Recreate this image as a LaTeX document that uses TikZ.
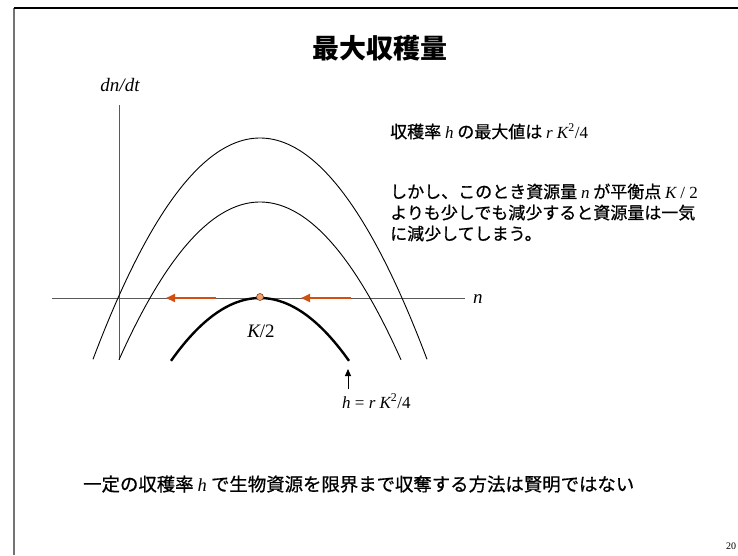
\documentclass[tikz,border=0pt]{standalone}
\usepackage{fontspec}
\setmainfont{Liberation Serif}
\newfontfamily\cjk[FakeBold=0.7]{Noto Sans CJK JP}
\newfontfamily\cjktitle{Noto Sans CJK JP}
\usetikzlibrary{arrows.meta}
\definecolor{arrorange}{HTML}{D2500F}
\definecolor{dotfill}{HTML}{F2A36E}
\definecolor{dotline}{HTML}{7A4020}
\newcommand\mylat[1]{{\rmfamily\itshape #1}}
\newcommand\myup[1]{{\rmfamily\upshape #1}}
\begin{document}
\begin{tikzpicture}[x=1pt,y=-1pt,
  curve/.style={black, line width=0.9pt},
  thickcurve/.style={black, line width=2.4pt},
  axisline/.style={black!65, line width=1pt},
  flow/.style={arrorange, line width=2pt, -{Triangle[length=9pt,width=8pt]}},
  cjktext/.style={font=\cjk\fontsize{17}{21}\selectfont, inner sep=0pt, anchor=base west},
  lbl/.style={font=\fontsize{19}{22}\selectfont\itshape, inner sep=0pt}
]
\useasboundingbox (0,0) rectangle (738,555);
% slide frame
\draw[black!55, line width=1.5pt] (14,555) -- (14,8);
\draw[black, line width=1.8pt] (14,8) -- (738,8);

% title
\node[font=\cjktitle\bfseries\fontsize{27}{30}\selectfont, inner sep=0pt] (title) at (380,48) {最大収穫量};

% axes
\coordinate (xa0) at (52,298);
\coordinate (xa1) at (465,298);
\coordinate (ya0) at (119,360);
\coordinate (ya1) at (119,105);
\draw[axisline] (xa0) -- (xa1);
\draw[axisline] (ya0) -- (ya1);
\node[lbl] (dndt) at (120,85) {dn/dt};
\node[lbl, anchor=west] (nlab) at (473,299) {n};

% parabolas
\draw[curve] plot[domain=93:427, samples=90, smooth] (\x, {138+0.007935*(\x-260)*(\x-260)});
\draw[curve] plot[domain=119:401, samples=90, smooth] (\x, {202+0.007935*(\x-260)*(\x-260)});
\draw[thickcurve] plot[domain=171:349, samples=70, smooth] (\x, {298+0.007935*(\x-260)*(\x-260)});

% flow arrows
\coordinate (a1s) at (216,298);
\coordinate (a1e) at (166,298);
\coordinate (a2s) at (351,298);
\coordinate (a2e) at (301,298);
\draw[flow] (a1s) -- (a1e);
\draw[flow] (a2s) -- (a2e);

% equilibrium point
\node[circle, fill=dotfill, draw=dotline, line width=0.6pt, minimum size=7pt, inner sep=0pt] (eq) at (260,297) {};
\node[lbl] (khalf) at (261,331) {K\myup{/2}};

% h = rK^2/4 arrow and label
\coordinate (hs) at (348,389);
\coordinate (he) at (348,369);
\draw[black, line width=1pt, -{Triangle[length=7pt,width=6pt]}] (hs) -- (he);
\node[font=\fontsize{17}{20}\selectfont, inner sep=0pt, anchor=base west] (hlab) at (342,408) {\mylat{h} = \mylat{r K}\textsuperscript{2}/4};

% right-hand text
\node[cjktext] (t1) at (390,138) {収穫率 \mylat{h} の最大値は \mylat{r K}{\rmfamily\textsuperscript{2}/4}};
\node[cjktext] (p1) at (390,198) {しかし、このとき資源量 \mylat{n} が平衡点 \mylat{K} \myup{/ 2}};
\node[cjktext] (p2) at (390,219) {よりも少しでも減少すると資源量は一気};
\node[cjktext] (p3) at (390,240) {に減少してしまう。};

% bottom statement
\node[cjktext, font=\cjk\fontsize{18.4}{21}\selectfont] (bot) at (83,491) {一定の収穫率 \mylat{h} で生物資源を限界まで収奪する方法は賢明ではない};

% page number
\node[font=\fontsize{10}{12}\selectfont, inner sep=0pt] (pg) at (731,546) {20};
\end{tikzpicture}
\end{document}
